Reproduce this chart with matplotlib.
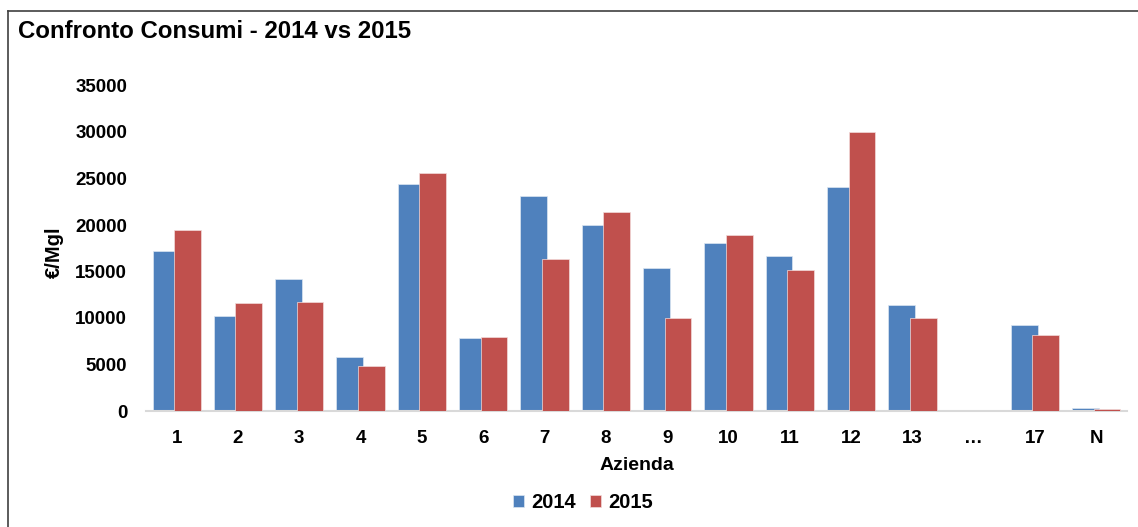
import matplotlib
matplotlib.use("Agg")
import matplotlib.pyplot as plt
import numpy as np
from matplotlib.lines import Line2D

plt.rcParams["font.family"] = ["Liberation Sans", "DejaVu Sans"]
plt.rcParams["font.weight"] = "bold"

categories = ["1", "2", "3", "4", "5", "6", "7", "8", "9", "10", "11", "12", "13", "…", "17", "N"]
values_2014 = [17200, 10200, 14200, 5800, 24400, 7850, 23150, 19950, 15400, 18050, 16700, 24050, 11450, 0, 9200, 320]
values_2015 = [19500, 11600, 11750, 4800, 25600, 7950, 16300, 21350, 10000, 18950, 15150, 29950, 9950, 0, 8150, 250]

BLUE = "#4F81BD"
RED = "#C0504D"

fig = plt.figure(figsize=(11.38, 5.27), dpi=100)
ax = fig.add_axes([146 / 1138, 1 - 411 / 527, (1127 - 146) / 1138, (411 - 85.5) / 527])

x = np.arange(len(categories))
width = 0.435
offset = 0.176
ax.bar(x - offset, values_2014, width, color=BLUE, edgecolor="#DCE6F2", linewidth=0.5, label="2014", zorder=2)
ax.bar(x + offset, values_2015, width, color=RED, edgecolor="#F2DCDB", linewidth=0.5, label="2015", zorder=3)

ax.set_xlim(-0.5, len(categories) - 0.5)
ax.set_ylim(0, 35000)
ax.set_yticks(np.arange(0, 35001, 5000))
ax.set_xticks(x)
ax.set_xticklabels(categories)
ax.tick_params(axis="both", length=0, labelsize=13.5)
ax.tick_params(axis="y", pad=13.5)
ax.tick_params(axis="x", pad=14)

for side in ["top", "right", "left"]:
    ax.spines[side].set_visible(False)
ax.spines["bottom"].set_color("#D9D9D9")
ax.spines["bottom"].set_linewidth(1.5)

ax.set_xlabel("Azienda", fontsize=14, fontweight="bold", labelpad=7)
fig.text(54 / 1138, 1 - 252 / 527, "€/Mgl", rotation=90, fontsize=14.5, fontweight="bold",
         ha="center", va="center")

fig.text(18 / 1138, 1 - 31 / 527, "Confronto Consumi - 2014 vs 2015", fontsize=17.3,
         fontweight="bold", ha="left", va="center")

fig.legend(loc="center", bbox_to_anchor=(583 / 1138, 1 - 503 / 527), ncol=2, frameon=False,
           fontsize=14.5, handlelength=0.55, handleheight=0.55, handletextpad=0.35, columnspacing=0.7)

# chart frame: only top and left edges are visible in the crop
fig.add_artist(Line2D([8 / 1138, 8 / 1138], [0, 1 - 11 / 527], transform=fig.transFigure,
                      color="#404040", linewidth=1.2))
fig.add_artist(Line2D([8 / 1138, 1], [1 - 11 / 527, 1 - 11 / 527], transform=fig.transFigure,
                      color="#404040", linewidth=1.2))

fig.savefig("out.png", dpi=100)
